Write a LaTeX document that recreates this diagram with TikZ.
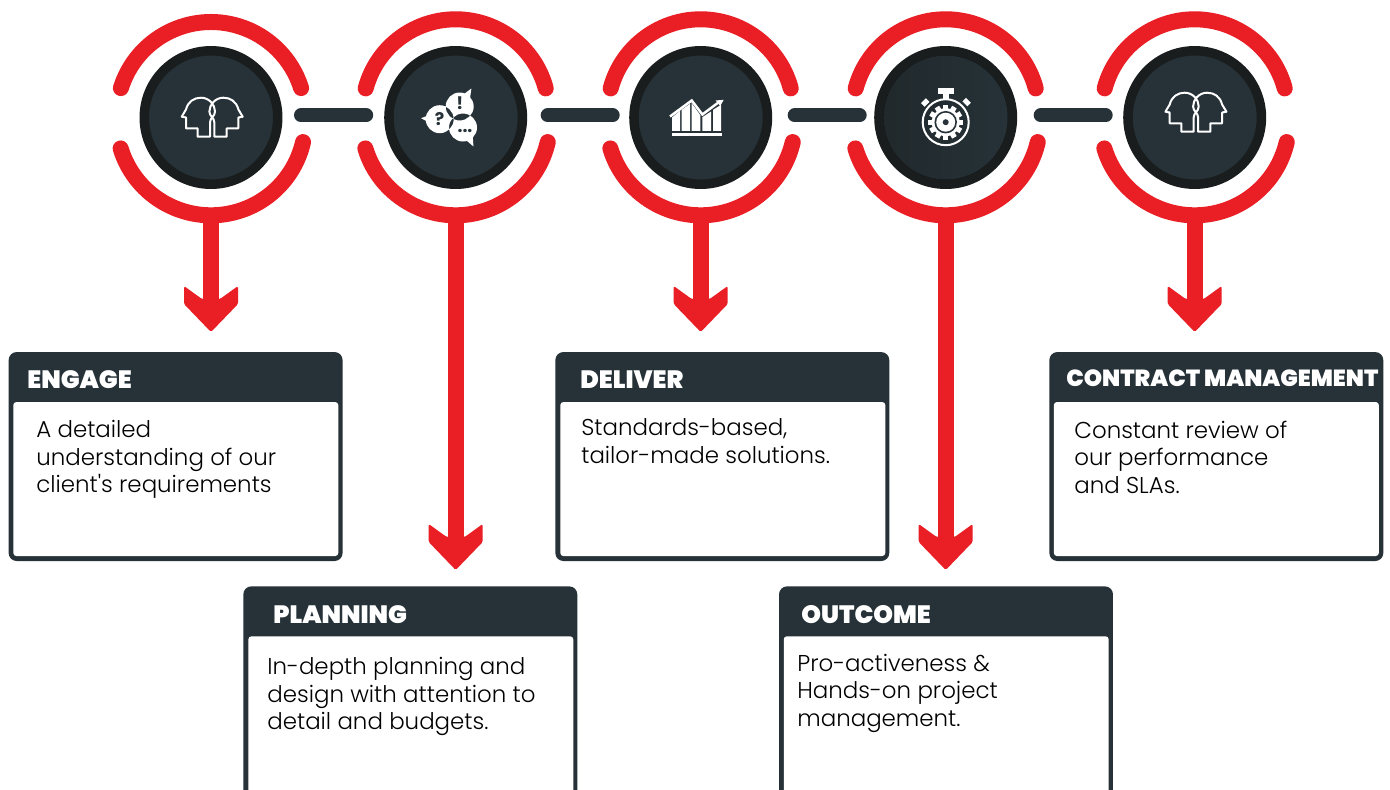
\documentclass[tikz,border=0pt]{standalone}
\usepackage{fontspec}
\setmainfont{Poppins}
\newfontfamily\lightfont{Poppins Light}
\newfontfamily\heavyfont{Poppins Black}
\usetikzlibrary{calc}
\definecolor{ringred}{RGB}{234,30,37}
\definecolor{slate}{RGB}{38,50,56}
\definecolor{rim}{RGB}{26,29,29}
\tikzset{
	x=0.02cm, y=-0.02cm,
	ring/.style={draw=ringred, line width=0.32cm, line cap=round},
	linkbar/.style={draw=slate, line width=0.28cm, line cap=round},
	stem/.style={draw=ringred, line width=0.32cm},
	hub/.style={circle, draw=rim, fill=slate, line width=0.19cm, minimum size=2.67cm, inner sep=0pt},
	card/.style={anchor=north west, fill=slate, rounded corners=0.16cm, minimum width=6.68cm, inner sep=0pt},
	sheet/.style={anchor=north west, fill=white, rounded corners=0.06cm, minimum width=6.5cm, inner sep=0pt},
	cardtitle/.style={anchor=base west, text=white, inner sep=0pt, font=\fontsize{14.25}{16}\heavyfont},
	cardtext/.style={anchor=base west, text=black, inner sep=0pt, align=left, font=\fontsize{13.05}{15.65}\lightfont},
	iconline/.style={draw=white, line width=0.04cm, line join=round},
	iconmark/.style={anchor=base, inner sep=0pt, text=slate, font=\fontsize{10}{10}\selectfont\bfseries},
	pics/headarrow/.style={code={
		\fill[ringred, rounded corners=0.03cm] (0,0) -- (-27,-28) -- (-27,-46) -- (-9,-33) -- (9,-33) -- (27,-46) -- (27,-28) -- cycle;}},
	pics/heads/.style={code={
		\draw[iconline] (-13.3,19.2) -- (-13.3,10.8) -- (-25,10.8) -- (-25,0) -- (-29.3,-0.8) -- (-25,-8) .. controls (-23,-16) and (-17,-19.8) .. (-10,-19.8) .. controls (-2,-19.8) and (4,-13) .. (4,-6) .. controls (4,-1) and (-1,0) .. (-1,5) -- (-1,19.2) -- cycle;
		\draw[iconline] (15.7,19.2) -- (15.7,10.8) -- (27.4,10.8) -- (27.4,0) -- (31.7,-0.8) -- (27.4,-8) .. controls (25.4,-16) and (19.4,-19.8) .. (12.4,-19.8) .. controls (4.4,-19.8) and (-1.6,-13) .. (-1.6,-6) .. controls (-1.6,-1) and (3.4,0) .. (3.4,5) -- (3.4,19.2) -- cycle;}},
}
\begin{document}
\begin{tikzpicture}
\clip (0,0) rectangle (1390,789);
\fill[white] (0,0) rectangle (1390,789);

% rings and hubs
\foreach \name/\cx/\tipy/\upr/\upy/\upa in {1/211/332/94.5/116.5/17.5,2/455.7/570/93.2/112.5/15,3/700.7/332/93.2/112.5/15,4/945.7/570/93.2/112.5/15,5/1194.7/332/93.2/112.5/15}{
	\draw[ring] ({\cx+\upr*cos(180-\upa)},{\upy-\upr*sin(180-\upa)}) arc[start angle=180-\upa, end angle=\upa, radius=\upr*0.02cm];
	\draw[ring] ({\cx+94.5*cos(197)},{120.8-94.5*sin(197)}) arc[start angle=197, end angle=347, radius=1.89cm];
	\node[hub] (hub\name) at (\cx,117.5) {};
	\coordinate (tip\name) at (\cx,\tipy);
	\draw[stem] ($(hub\name.south)+(0,30)$) -- ($(tip\name)+(0,-30)$);
	\path (tip\name) pic{headarrow};
}

% links between hubs
\foreach \a/\b/\sa/\sb in {1/2/18.5/18,2/3/20.5/16.5,3/4/22.5/14.5,4/5/23.5/17.5}{
	\draw[linkbar, shorten <=\sa*0.02cm, shorten >=\sb*0.02cm] ([yshift=0.044cm]hub\a.east) -- ([yshift=0.044cm]hub\b.west);
}

% icons
\path (hub1) pic{heads};
\path ($(hub5)+(0,-5)$) pic{heads};

% bubbles
\begin{scope}[shift={(hub2)}]
	\fill[white] (7.7,-23) -- (15.7,-29) -- (14,-17) -- cycle;
	\fill[white] (-25.7,-2.7) -- (-34.7,0.7) -- (-22,7.3) -- cycle;
	\fill[white] (10.3,22.5) -- (17.7,29) -- (17,16.5) -- cycle;
	\fill[white, even odd rule] (4,-11) circle[radius=0.28cm] (-16,1.7) circle[radius=0.28cm] (7.3,10) circle[radius=0.28cm];
	\node[iconmark] (qmark) at (-16,8.3) {?};
	\node[iconmark] (bang) at (4,-7.7) {!};
	\node[iconmark] (dots) at (9.3,14.5) {...};
\end{scope}

% chart
\begin{scope}[shift={(hub3)}]
	\fill[white] (-28.7,15.5) rectangle (21.3,18.3);
	\fill[white] (-28.7,13.3) -- (-28.7,0) -- (-20.7,-6.7) -- (-20.7,13.3) -- cycle;
	\fill[white] (-19,13.3) -- (-19,-7.7) -- (-10.7,-13.7) -- (-10.7,13.3) -- cycle;
	\fill[white] (-9,13.3) -- (-9,-14.3) -- (-0.3,-2.3) -- (-0.3,13.3) -- cycle;
	\fill[white] (1.7,13.3) -- (1.7,-0.3) -- (10.3,-6) -- (10.3,13.3) -- cycle;
	\fill[white] (12.3,13.3) -- (12.3,-7.7) -- (20.3,-12.7) -- (20.3,13.3) -- cycle;
	\draw[white, line width=0.05cm] (-30.7,-1) -- (-9,-17) -- (1.7,-3) -- (19,-16);
	\fill[white] (23,-17.7) -- (15,-17) -- (19.5,-11.5) -- cycle;
\end{scope}

% stopwatch
\fill[left color=rim!45!slate, right color=slate] (hub4) circle[radius=1.24cm];
\begin{scope}[shift={(hub4)}]
	\draw[white, line width=0.04cm] (0,4.7) circle[radius=0.46cm];
	\fill[white] (-7.7,-29.3) rectangle (8.7,-23.3);
	\fill[white] (-3,-23.3) rectangle (3,-18);
	\fill[white, rotate around={45:(-20.5,-15)}] (-24,-17.5) rectangle (-17,-12.5);
	\fill[white, rotate around={-45:(21,-15.5)}] (17.5,-18) rectangle (24.5,-13);
	\foreach \ang in {0,30,...,330}{
		\fill[white, rotate around={\ang:(0,4.7)}] (-2.6,-12.8) rectangle (2.6,-3.6);
	}
	\fill[white] (0,4.7) circle[radius=0.28cm];
	\fill[slate] (0,4.7) circle[radius=0.225cm];
	\fill[white] (0,4.7) circle[radius=0.19cm];
	\fill[slate] (0,4.7) circle[radius=0.06cm];
\end{scope}

% top left
\node[card, minimum height=4.18cm] (engage) at (8.3,351.7) {};
\node[sheet, minimum height=3.08cm] (engagebody) at (13,401.7) {};
\node[cardtitle] (engagetitle) at (27,388) {ENGAGE};
\node[cardtext] (engagetext) at (36,492.7) {A detailed\\understanding of our\\client's requirements};

% bottom left
\node[card, minimum height=5cm] (planning) at (243,586) {};
\node[sheet, minimum height=4cm] (planningbody) at (248,636) {};
\node[cardtitle] (planningtitle) at (273,623) {PLANNING};
\node[cardtext] (planningtext) at (267,729.5) {In-depth planning and\\design with attention to\\detail and budgets.};

% top middle
\node[card, minimum height=4.18cm] (deliver) at (555,351.7) {};
\node[sheet, minimum height=3.08cm] (deliverbody) at (560,401.7) {};
\node[cardtitle] (delivertitle) at (580,388) {DELIVER};
\node[cardtext] (delivertext) at (581,463.3) {Standards-based,\\tailor-made solutions.};

% bottom right
\node[card, minimum height=5cm] (outcome) at (778.7,586) {};
\node[sheet, minimum height=4cm] (outcomebody) at (783.4,636) {};
\node[cardtitle] (outcometitle) at (801,623) {OUTCOME};
\node[cardtext] (outcometext) at (797,726) {Pro-activeness \&\\Hands-on project\\management.};

% top right
\node[card, minimum height=4.18cm] (contract) at (1049,351.7) {};
\node[sheet, minimum height=3.08cm] (contractbody) at (1053.5,401.7) {};
\node[cardtitle, font=\fontsize{13.25}{16}\heavyfont] (contracttitle) at (1066,386) {CONTRACT MANAGEMENT};
\node[cardtext] (contracttext) at (1074,493.3) {Constant review of\\our performance\\and SLAs.};
\end{tikzpicture}
\end{document}
